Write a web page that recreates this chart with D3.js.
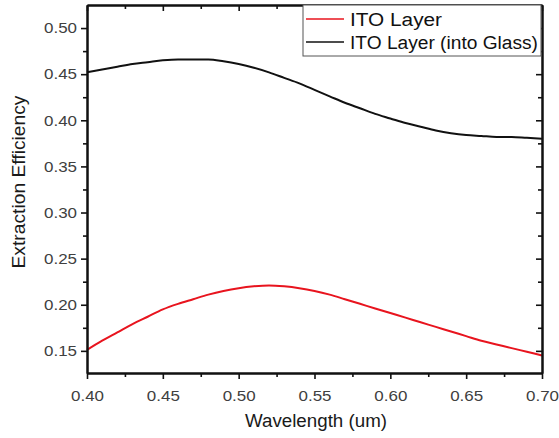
<!DOCTYPE html>
<html>
<head>
<meta charset="utf-8">
<script src="https://cdn.jsdelivr.net/npm/d3@7"></script>
<style>
  html, body { margin: 0; padding: 0; background: #fff; }
  svg { display: block; font-family: Arial, "Liberation Sans", sans-serif; }
</style>
</head>
<body>
<svg id="chart" width="559" height="438"></svg>
<script>
// Wavelength samples (um)
const wavelength = [0.40, 0.41, 0.42, 0.43, 0.44, 0.45, 0.46, 0.47, 0.48, 0.49, 0.50,
  0.51, 0.52, 0.53, 0.54, 0.55, 0.56, 0.57, 0.58, 0.59, 0.60,
  0.61, 0.62, 0.63, 0.64, 0.65, 0.66, 0.67, 0.68, 0.69, 0.70];

// Extraction efficiency, ITO layer
const itoLayer = [0.151, 0.161, 0.170, 0.179, 0.187, 0.195, 0.201, 0.206, 0.211, 0.215, 0.218,
  0.220, 0.221, 0.220, 0.218, 0.215, 0.211, 0.206, 0.201, 0.196, 0.191,
  0.186, 0.181, 0.176, 0.171, 0.166, 0.161, 0.157, 0.153, 0.149, 0.145];

// Extraction efficiency, ITO layer into glass
const itoGlass = [0.452, 0.455, 0.458, 0.461, 0.463, 0.465, 0.466, 0.466, 0.466, 0.464, 0.461,
  0.457, 0.452, 0.446, 0.440, 0.433, 0.426, 0.419, 0.413, 0.407, 0.402,
  0.397, 0.393, 0.389, 0.386, 0.384, 0.383, 0.382, 0.382, 0.381, 0.380];

const xTicks = [0.40, 0.45, 0.50, 0.55, 0.60, 0.65, 0.70];
const yTicks = [0.15, 0.20, 0.25, 0.30, 0.35, 0.40, 0.45, 0.50];
const seriesNames = ["ITO Layer", "ITO Layer (into Glass)"];
const seriesColors = ["#e8141e", "#111111"];

const svg = d3.select("#chart");
const L = 87, R = 542, T = 5, B = 373;

const x = d3.scaleLinear().domain([0.40, 0.70]).range([L, R]);
const y = d3.scaleLinear().domain([0.126, 0.525]).range([B, T]);

const xMinor = d3.range(0, 7).map(i => 0.425 + i * 0.05).filter(v => v < 0.70);
const yMinor = d3.range(0, 8).map(i => 0.125 + i * 0.05).filter(v => v > 0.126 && v < 0.525);

// curves
const line = d3.line().x(d => x(d[0])).y(d => y(d[1])).curve(d3.curveMonotoneX);
[itoLayer, itoGlass].forEach((vals, i) => {
  svg.append("path")
    .datum(wavelength.map((w, j) => [w, vals[j]]))
    .attr("fill", "none")
    .attr("stroke", seriesColors[i])
    .attr("stroke-width", 2)
    .attr("d", line);
});

// axes
function styleAxis(g) {
  g.select(".domain").attr("stroke", "#111").attr("stroke-width", 2);
  g.selectAll(".tick line").attr("stroke", "#111").attr("stroke-width", 1.6);
  g.selectAll(".tick text").attr("fill", "#404040").attr("font-size", 15)
    .attr("textLength", 33).attr("lengthAdjust", "spacingAndGlyphs");
}
const fmt = d3.format(".2f");

svg.append("g").attr("transform", `translate(0,${B})`)
  .call(d3.axisBottom(x).tickValues(xTicks).tickFormat(fmt).tickSize(6).tickSizeOuter(0).tickPadding(11))
  .call(styleAxis);
svg.append("g").attr("transform", `translate(0,${B})`)
  .call(d3.axisBottom(x).tickValues(xMinor).tickFormat("").tickSize(4).tickSizeOuter(0))
  .call(styleAxis);

svg.append("g").attr("transform", `translate(${L},0)`)
  .call(d3.axisLeft(y).tickValues(yTicks).tickFormat(fmt).tickSize(6).tickSizeOuter(0).tickPadding(4))
  .call(styleAxis);
svg.append("g").attr("transform", `translate(${L},0)`)
  .call(d3.axisLeft(y).tickValues(yMinor).tickFormat("").tickSize(4).tickSizeOuter(0))
  .call(styleAxis);

// mirrored top and right axes with inward ticks
svg.append("g").attr("transform", `translate(0,${T})`)
  .call(d3.axisTop(x).tickValues(xTicks).tickFormat("").tickSize(-6).tickSizeOuter(0))
  .call(styleAxis);
svg.append("g").attr("transform", `translate(0,${T})`)
  .call(d3.axisTop(x).tickValues(xMinor).tickFormat("").tickSize(-4).tickSizeOuter(0))
  .call(styleAxis);
svg.append("g").attr("transform", `translate(${R},0)`)
  .call(d3.axisRight(y).tickValues(yTicks).tickFormat("").tickSize(-6).tickSizeOuter(0))
  .call(styleAxis);
svg.append("g").attr("transform", `translate(${R},0)`)
  .call(d3.axisRight(y).tickValues(yMinor).tickFormat("").tickSize(-4).tickSizeOuter(0))
  .call(styleAxis);

// axis titles
svg.append("text")
  .attr("x", 316).attr("y", 427)
  .attr("text-anchor", "middle")
  .attr("font-size", 18).attr("fill", "#1a1a1a")
  .attr("textLength", 142).attr("lengthAdjust", "spacingAndGlyphs")
  .text("Wavelength (um)");
svg.append("text")
  .attr("transform", "translate(25,182) rotate(-90)")
  .attr("text-anchor", "middle")
  .attr("font-size", 18).attr("fill", "#1a1a1a")
  .attr("textLength", 173).attr("lengthAdjust", "spacingAndGlyphs")
  .text("Extraction Efficiency");

// legend
const lg = svg.append("g").attr("transform", "translate(303,5)");
lg.append("rect").attr("x", 0).attr("y", 0).attr("width", 238).attr("height", 51)
  .attr("fill", "#fff").attr("stroke", "#555").attr("stroke-width", 1);
const legendWidths = [92, 188];
seriesNames.forEach((name, i) => {
  const yy = 14 + i * 23;
  lg.append("line").attr("x1", 3).attr("x2", 41).attr("y1", yy).attr("y2", yy)
    .attr("stroke", seriesColors[i]).attr("stroke-width", 1.5);
  lg.append("text").attr("x", 47).attr("y", yy + 7)
    .attr("font-size", 18).attr("fill", "#111")
    .attr("textLength", legendWidths[i]).attr("lengthAdjust", "spacingAndGlyphs")
    .text(name);
});
</script>
</body>
</html>
